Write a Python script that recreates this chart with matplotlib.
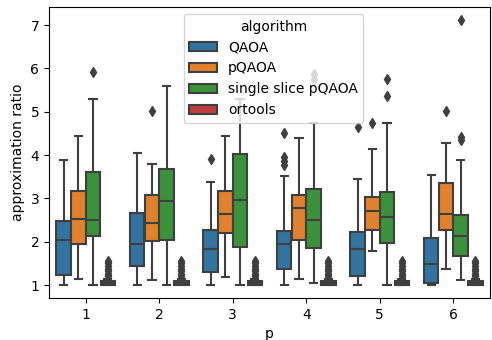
import matplotlib
matplotlib.use("Agg")
import matplotlib.pyplot as plt
from matplotlib.patches import Patch

# ---- data ----
p_values = [1, 2, 3, 4, 5, 6]
algorithms = ["QAOA", "pQAOA", "single slice pQAOA", "ortools"]

# per p: [whisker low, q1, median, q3, whisker high]
qaoa_stats = [
    [1.00, 1.22, 2.04, 2.48, 3.88],
    [1.00, 1.45, 1.95, 2.67, 4.05],
    [1.00, 1.30, 1.83, 2.28, 3.37],
    [1.00, 1.36, 1.95, 2.25, 3.52],
    [1.00, 1.20, 1.83, 2.22, 3.45],
    [1.00, 1.04, 1.48, 2.09, 3.54],
]
qaoa_fliers = [[], [], [3.92], [3.78, 3.86, 3.95, 4.52], [4.65], []]

pqaoa_stats = [
    [1.15, 1.94, 2.52, 3.17, 4.45],
    [1.12, 2.02, 2.44, 3.08, 3.80],
    [1.18, 2.19, 2.63, 3.17, 4.45],
    [1.15, 2.05, 2.78, 3.08, 4.39],
    [1.79, 2.28, 2.72, 3.04, 4.14],
    [1.36, 2.28, 2.65, 3.35, 4.27],
]
pqaoa_fliers = [[], [5.01], [], [], [4.73], [5.02]]

single_stats = [
    [1.00, 2.13, 2.50, 3.62, 5.29],
    [1.00, 2.05, 2.94, 3.67, 5.59],
    [1.00, 1.88, 2.96, 4.02, 5.30],
    [1.04, 1.85, 2.50, 3.22, 4.75],
    [1.00, 1.97, 2.56, 3.14, 4.75],
    [1.12, 1.66, 2.14, 2.62, 3.88],
]
single_fliers = [[5.91], [], [], [5.75, 5.88], [5.37, 5.75], [4.35, 4.41, 7.12]]

ortools_stats = [
    [1.00, 1.00, 1.04, 1.10, 1.15],
    [1.00, 1.00, 1.04, 1.10, 1.15],
    [1.00, 1.00, 1.04, 1.10, 1.15],
    [1.00, 1.00, 1.04, 1.10, 1.15],
    [1.00, 1.00, 1.04, 1.10, 1.15],
    [1.00, 1.00, 1.04, 1.10, 1.15],
]
ortools_fliers = [[1.20, 1.26, 1.32, 1.38, 1.44, 1.50, 1.56]] * 6

colors = ["#3274a1", "#e1812c", "#3a923a", "#c03d3e"]
edge = "#3f3f3f"

all_stats = [qaoa_stats, pqaoa_stats, single_stats, ortools_stats]
all_fliers = [qaoa_fliers, pqaoa_fliers, single_fliers, ortools_fliers]

fig = plt.figure(figsize=(4.92, 3.40), dpi=100)
ax = fig.add_axes([49 / 492, 1 - 298 / 340, 441 / 492, 291 / 340])

n_hue = len(algorithms)
each = 0.8 / n_hue
offsets = [(-0.4 + each / 2) + i * each for i in range(n_hue)]

for h, (stats, fliers) in enumerate(zip(all_stats, all_fliers)):
    bxp_stats = []
    for s, f in zip(stats, fliers):
        bxp_stats.append(dict(whislo=s[0], q1=s[1], med=s[2], q3=s[3],
                              whishi=s[4], fliers=f))
    positions = [i + offsets[h] for i in range(len(p_values))]
    ax.bxp(bxp_stats, positions=positions, widths=each * 0.98,
           patch_artist=True, showfliers=True, manage_ticks=False,
           boxprops=dict(facecolor=colors[h], edgecolor=edge, linewidth=1.5),
           medianprops=dict(color=edge, linewidth=1.5),
           whiskerprops=dict(color=edge, linewidth=1.5),
           capprops=dict(color=edge, linewidth=1.5),
           flierprops=dict(marker="d", markersize=5, markerfacecolor=edge,
                           markeredgecolor=edge, linestyle="none"))

ax.set_xlim(-0.5, len(p_values) - 0.5)
ax.set_ylim(0.70, 7.42)
ax.set_xticks(range(len(p_values)))
ax.set_xticklabels([str(p) for p in p_values])
ax.set_xlabel("p")
ax.set_ylabel("approximation ratio")

handles = [Patch(facecolor=c, edgecolor=edge, linewidth=1.5, label=a)
           for c, a in zip(colors, algorithms)]
ax.legend(handles=handles, title="algorithm", loc="upper center",
          bbox_to_anchor=(0.509, 1.0))

fig.savefig("out.png", dpi=100)
